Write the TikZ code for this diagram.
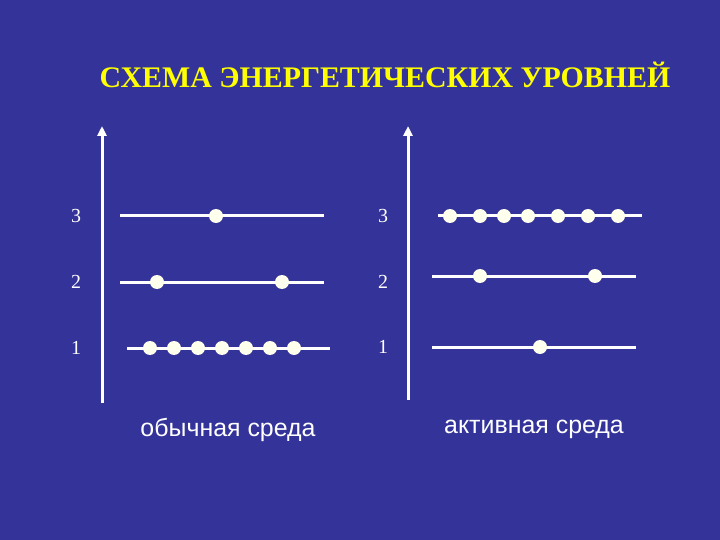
\documentclass[tikz,border=0pt]{standalone}
\usepackage{fontspec}
\setmainfont{Liberation Serif}
\setsansfont{Liberation Sans}
\usetikzlibrary{arrows.meta}

\definecolor{slideblue}{HTML}{333399}
\definecolor{titleyellow}{HTML}{FFFF00}
\definecolor{dotcream}{HTML}{FFFFEE}

\tikzset{
  axis/.style={white, line width=3bp, -{Triangle[width=9bp,length=10bp]}},
  level/.style={white, line width=3bp},
  particle/.style={circle, fill=dotcream, inner sep=0pt, minimum size=14bp},
  levelnum/.style={white, font=\fontsize{20}{20}\selectfont},
  medium/.style={white, font=\sffamily\fontsize{25}{25}\selectfont}
}

\begin{document}
\begin{tikzpicture}[x=1bp, y=-1bp]
  \fill[slideblue] (0,0) rectangle (720,540);
  \useasboundingbox (0,0) rectangle (720,540);

  \node[titleyellow, font=\bfseries\fontsize{30}{30}\selectfont] (title) at (385,75) {СХЕМА ЭНЕРГЕТИЧЕСКИХ УРОВНЕЙ};

  % left: ordinary medium
  \coordinate (axisLbot) at (102,403);
  \coordinate (axisLtop) at (102,126);
  \draw[axis] (axisLbot) -- (axisLtop);
  \node[levelnum] (numL3) at (76,216) {3};
  \node[levelnum] (numL2) at (76,282) {2};
  \node[levelnum] (numL1) at (76,348) {1};
  \coordinate (L3a) at (120,216); \coordinate (L3b) at (324,216);
  \coordinate (L2a) at (120,282); \coordinate (L2b) at (324,282);
  \coordinate (L1a) at (127,348); \coordinate (L1b) at (330,348);
  \draw[level] (L3a) -- (L3b);
  \draw[level] (L2a) -- (L2b);
  \draw[level] (L1a) -- (L1b);
  \node[particle] (l3p1) at (216,216) {};
  \foreach \x [count=\i] in {157,282}
    \node[particle] (l2p\i) at (\x,282) {};
  \foreach \x [count=\i] in {150,174,198,222,246,270,294}
    \node[particle] (l1p\i) at (\x,348) {};
  \node[medium] (ordinary) at (228,430) {обычная среда};

  % right: active medium
  \coordinate (axisRbot) at (408,400);
  \coordinate (axisRtop) at (408,126);
  \draw[axis] (axisRbot) -- (axisRtop);
  \node[levelnum] (numR3) at (383,216) {3};
  \node[levelnum] (numR2) at (383,282) {2};
  \node[levelnum] (numR1) at (383,347) {1};
  \coordinate (R3a) at (438,216); \coordinate (R3b) at (642,216);
  \coordinate (R2a) at (432,276); \coordinate (R2b) at (636,276);
  \coordinate (R1a) at (432,347); \coordinate (R1b) at (636,347);
  \draw[level] (R3a) -- (R3b);
  \draw[level] (R2a) -- (R2b);
  \draw[level] (R1a) -- (R1b);
  \foreach \x [count=\i] in {450,480,504,528,558,588,618}
    \node[particle] (r3p\i) at (\x,216) {};
  \foreach \x [count=\i] in {480,595}
    \node[particle] (r2p\i) at (\x,276) {};
  \node[particle] (r1p1) at (540,347) {};
  \node[medium] (active) at (534,429) {активная среда};
\end{tikzpicture}
\end{document}
